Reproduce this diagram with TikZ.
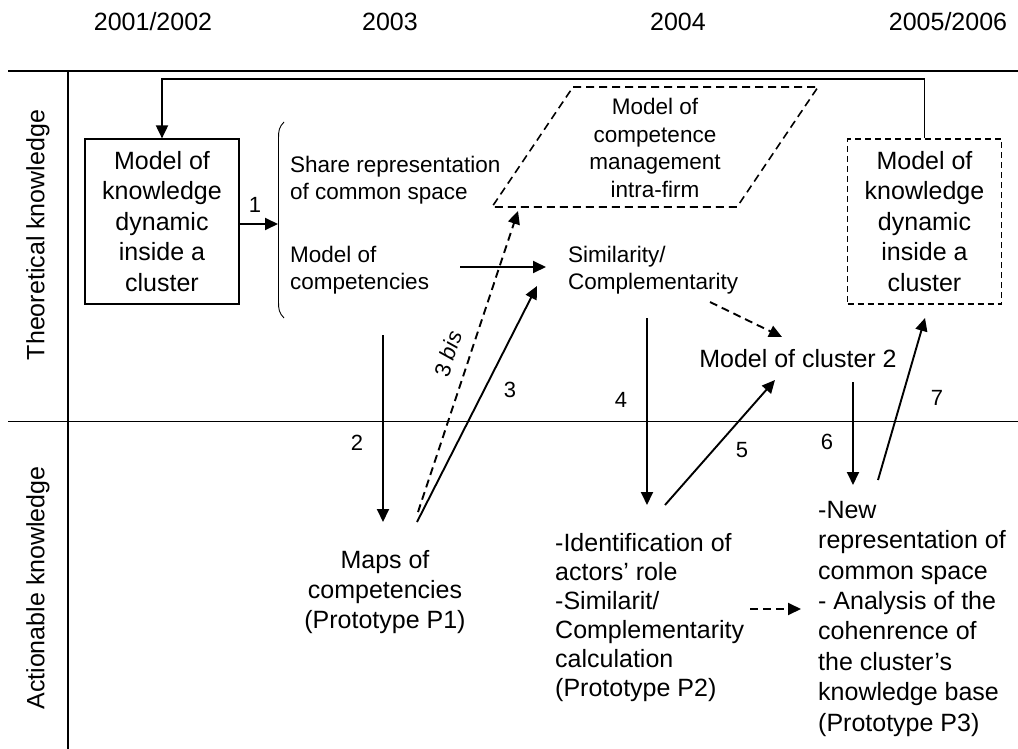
\documentclass[tikz,border=0pt]{standalone}
\usepackage{fontspec}
\setmainfont{Liberation Sans}
\usetikzlibrary{arrows.meta}
\begin{document}
\begin{tikzpicture}[x=1pt,y=-1pt,
  arr/.style={-{Triangle[length=13pt,width=12pt]}, line width=1.9pt},
  darr/.style={arr, dash pattern=on 8pt off 5pt},
  dline/.style={line width=1.6pt, dash pattern=on 8pt off 5pt},
  frame/.style={line width=1.2pt},
  year/.style={font=\fontsize{25}{30}\selectfont, inner sep=0pt},
  side/.style={font=\fontsize{25}{30}\selectfont, inner sep=0pt, rotate=90},
  boxtxt/.style={font=\fontsize{25}{30.5}\selectfont, align=center, minimum width=154pt, minimum height=165pt, inner sep=0pt},
  txt/.style={font=\fontsize{22.5}{27}\selectfont, align=left, inner sep=0pt, anchor=base west},
  ctxt/.style={font=\fontsize{22.5}{27.5}\selectfont, align=center, inner sep=0pt, anchor=base},
  bot/.style={font=\fontsize{25}{29}\selectfont, align=left, inner sep=0pt, anchor=base west},
  num/.style={font=\fontsize{22}{26}\selectfont, inner sep=0pt}]
\useasboundingbox (0,0) rectangle (1018,749);
\fill[white] (0,0) rectangle (1018,749);

% frame
\coordinate (tl) at (8,71);
\coordinate (tr) at (1018,71);
\coordinate (ml) at (8,421.5);
\coordinate (mr) at (1018,421.5);
\coordinate (vt) at (68,71);
\coordinate (vb) at (68,749);
\draw[line width=1.8pt] (tl) -- (tr);
\draw[frame] (ml) -- (mr);
\draw[frame] (vt) -- (vb);

% years
\node[year] (y1) at (153,22) {2001/2002};
\node[year] (y2) at (390,22) {2003};
\node[year] (y3) at (678,22) {2004};
\node[year] (y4) at (948,22) {2005/2006};

% side labels
\node[side] (theo) at (38,235) {Theoretical knowledge};
\node[side] (act) at (38,588) {Actionable knowledge};

% boxes
\node[boxtxt, draw, line width=1.2pt] (box1) at (162,221.5) {Model of\\knowledge\\dynamic\\inside a\\cluster};
\node[boxtxt, draw, line width=1.2pt, dash pattern=on 6pt off 4pt] (box2) at (924.5,221.5) {Model of\\knowledge\\dynamic\\inside a\\cluster};

% brace
\coordinate (brt) at (284,122);
\coordinate (brb) at (284,318);
\draw[line width=0.9pt] (brt) .. controls (279,127) and (278.5,131) .. (278.5,138) -- (278.5,302) .. controls (278.5,309) and (279,313) .. (brb);

% texts top (anchor = baseline of the last line)
\node[txt] (share) at (290,200) {Share representation\\of common space};
\node[txt] (comp) at (290,289) {Model of\\competencies};
\node[txt] (simil) at (568,289) {Similarity/\\Complementarity};
\node[ctxt] (intra) at (655,197) {Model of\\competence\\management\\intra-firm};
\node[font=\fontsize{25}{30}\selectfont, inner sep=0pt, anchor=base] (cl2) at (798,367) {Model of cluster 2};

% parallelogram
\coordinate (p1) at (573,87);
\coordinate (p2) at (818,87);
\coordinate (p3) at (737,207);
\coordinate (p4) at (492,207);
\draw[dline] (p1) -- (p2) -- (p3) -- (p4) -- cycle;

% bottom texts
\node[font=\fontsize{25}{30}\selectfont, align=center, inner sep=0pt, anchor=base] (p1t) at (385,628) {Maps of\\competencies\\(Prototype P1)};
\node[bot] (p2t) at (555,696) {-Identification of\\actors’ role\\-Similarit/\\Complementarity\\calculation\\(Prototype P2)};
\node[font=\fontsize{25}{30.4}\selectfont, align=left, inner sep=0pt, anchor=base west] (p3t) at (818,731) {-New\\representation of\\common space\\- Analysis of the\\cohenrence of\\the cluster’s\\knowledge base\\(Prototype P3)};

% connector end points
\coordinate (a1e) at (278,224);
\coordinate (cs) at (460,267);
\coordinate (ce) at (546,267);
\coordinate (a2s) at (383,335);
\coordinate (a2e) at (383,522);
\coordinate (a3s) at (417,522);
\coordinate (a3e) at (537,286);
\coordinate (b3s) at (418,512);
\coordinate (b3e) at (518,211);
\coordinate (ds) at (710,302);
\coordinate (de) at (782,337);
\coordinate (a4s) at (647,318);
\coordinate (a4e) at (647,505);
\coordinate (a5s) at (665,505);
\coordinate (a5e) at (775,380);
\coordinate (a6s) at (853,382);
\coordinate (a6e) at (853,485);
\coordinate (a7s) at (878,480);
\coordinate (a7e) at (925,318);
\coordinate (hs) at (750,609);
\coordinate (he) at (801,609);

% connectors
\draw[arr] (box2.north) -- ++(0,-59) -| (box1.north);
\draw[arr] (box1.east |- a1e) -- (a1e);
\draw[arr] (cs) -- (ce);
\draw[arr] (a2s) -- (a2e);
\draw[arr] (a3s) -- (a3e);
\draw[darr] (b3s) -- (b3e);
\draw[darr] (ds) -- (de);
\draw[arr] (a4s) -- (a4e);
\draw[arr] (a5s) -- (a5e);
\draw[arr] (a6s) -- (a6e);
\draw[arr] (a7s) -- (a7e);
\draw[darr] (hs) -- (he);

% labels
\node[num] (n1) at (255,205) {1};
\node[num] (n2) at (357,443) {2};
\node[num] (n3) at (510,390) {3};
\node[num, rotate=72] (n3b) at (448,354) {3 \textit{bis}};
\node[num] (n4) at (621,400) {4};
\node[num] (n5) at (742,450) {5};
\node[num] (n6) at (827,442) {6};
\node[num] (n7) at (937,398) {7};
\end{tikzpicture}
\end{document}
